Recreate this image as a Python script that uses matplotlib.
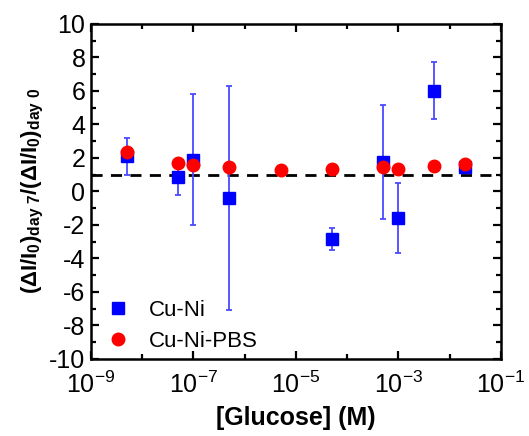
import matplotlib
matplotlib.use("Agg")
import matplotlib.pyplot as plt
import numpy as np
from matplotlib.ticker import MultipleLocator, FixedLocator, NullFormatter

plt.rcParams['font.family'] = ['Liberation Sans', 'DejaVu Sans']
plt.rcParams['mathtext.fontset'] = 'custom'
plt.rcParams['mathtext.rm'] = 'Liberation Sans:bold'
plt.rcParams['mathtext.it'] = 'Liberation Sans:bold'
plt.rcParams['mathtext.bf'] = 'Liberation Sans:bold'
plt.rcParams['axes.unicode_minus'] = False

# Cu-Ni data
cuni_x = [5e-9, 5e-8, 1e-7, 5e-7, 5e-5, 5e-4, 1e-3, 5e-3, 2e-2]
cuni_y = [2.1, 0.85, 1.9, -0.4, -2.85, 1.75, -1.6, 6.0, 1.45]
cuni_err = [1.1, 1.05, 3.9, 6.7, 0.65, 3.4, 2.1, 1.7, 0.15]

# Cu-Ni-PBS data
pbs_x = [5e-9, 5e-8, 1e-7, 5e-7, 5e-6, 5e-5, 5e-4, 1e-3, 5e-3, 2e-2]
pbs_y = [2.35, 1.7, 1.6, 1.45, 1.3, 1.35, 1.45, 1.35, 1.5, 1.65]

ref_level = 1.0

fig = plt.figure(figsize=(5.29, 4.36), dpi=100)
ax = fig.add_axes([0.172, 0.177, 0.775, 0.768])

ax.axhline(ref_level, color='black', lw=2, ls=(0, (4, 3)), zorder=1)

ax.errorbar(cuni_x, cuni_y, yerr=cuni_err, fmt='none',
            ecolor='#4a4aff', elinewidth=1.3, capsize=2.5, capthick=1.3, zorder=2)
h1, = ax.plot(cuni_x, cuni_y, 's', color='#0000ff', ms=9, label='Cu-Ni', zorder=2)
h2, = ax.plot(pbs_x, pbs_y, 'o', color='#ff0000', ms=9, label='Cu-Ni-PBS', zorder=3)

ax.set_xscale('log')
ax.set_xlim(1e-9, 1e-1)
ax.set_ylim(-10, 10)
ax.xaxis.set_major_locator(FixedLocator([1e-9, 1e-7, 1e-5, 1e-3, 1e-1]))
ax.xaxis.set_minor_locator(FixedLocator([1e-8, 1e-6, 1e-4, 1e-2]))
ax.xaxis.set_minor_formatter(NullFormatter())
ax.yaxis.set_major_locator(MultipleLocator(2))
ax.yaxis.set_minor_locator(MultipleLocator(1))

ax.tick_params(which='both', direction='in', top=True, right=True, width=1.6)
ax.tick_params(which='major', length=6, labelsize=18)
ax.tick_params(axis='x', which='major', pad=9)
ax.tick_params(axis='y', which='major', pad=4)
ax.tick_params(which='minor', length=3.5)
for s in ax.spines.values():
    s.set_linewidth(1.8)

ax.set_xlabel('[Glucose] (M)', fontsize=18, fontweight='bold', labelpad=6)
ax.set_ylabel(r'$(\Delta I/I_0)_{day\ 7}/(\Delta I/I_0)_{day\ 0}$', fontsize=16, labelpad=2)

ax.legend(handles=[h1, h2], loc='lower left', frameon=False, fontsize=16,
          handlelength=1.0, handletextpad=0.9, borderaxespad=0.3,
          labelspacing=0.45, bbox_to_anchor=(0.0, -0.025))

fig.savefig('out.png', dpi=100)
